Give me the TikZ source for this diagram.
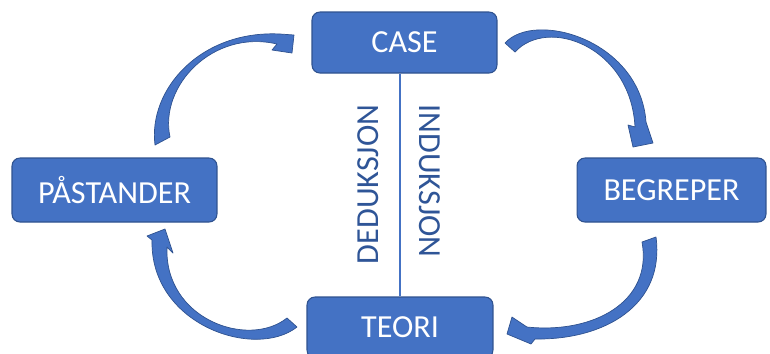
\documentclass[tikz,border=0pt]{standalone}
\usepackage{fontspec}
\setmainfont{Carlito}
\usetikzlibrary{positioning}
\definecolor{boxblue}{HTML}{4472C4}
\definecolor{boxedge}{HTML}{2F528F}
\definecolor{textblue}{HTML}{2F5597}
\tikzset{fase/.style={rectangle, draw=boxedge, fill=boxblue, line width=0.6pt, rounded corners=4.5pt,
  text=white, minimum height=1.22cm, inner sep=0pt, font=\fontsize{18.3}{21}\selectfont}}
\tikzset{metode/.style={text=textblue, inner sep=0pt, font=\fontsize{18.3}{21}\selectfont}}
\tikzset{pil/.style={fill=boxblue, draw=boxedge, line width=0.4pt, line join=round}}

\begin{document}
\begin{tikzpicture}[x=0.02cm, y=-0.02cm]
\useasboundingbox (0,0) rectangle (770,353);
\node[fase, minimum width=3.7cm] (case) at (404.5,42.5) {CASE};
\node[fase, minimum width=4.1cm, minimum height=1.28cm] (pastander) at (114.5,190) {PÅSTANDER};
\node[fase, minimum width=3.78cm, minimum height=1.28cm] (begreper) at (671.5,190) {BEGREPER};
\node[fase, minimum width=3.72cm] (teori) at (400,327.5) {TEORI};
\draw[boxblue, line width=0.85pt] (teori.north) -- (teori.north |- case.south);
\node[metode, rotate=90] (deduksjon) at (368,184.5) {DEDUKSJON};
\node[metode, rotate=-90] (induksjon) at (430,181) {INDUKSJON};
% curved arrows between the phases
\filldraw[pil] (155,145) .. controls (148,90) and (200,30) .. (280,34) -- (294,35) -- (292,53)
  -- (272,50) -- (277,44) .. controls (213,29) and (159,86) .. (170,137) -- cycle;
\filldraw[pil] (505,43) .. controls (535,10) and (640,40) .. (646,122) -- (653,143) -- (633,147)
  -- (628,125) -- (635,127) .. controls (631,47) and (548,16) .. (515,52) -- cycle;
\filldraw[pil] (656,237) .. controls (665,305) and (605,340) .. (535,339) -- (531,344) -- (507,334)
  -- (512,317) -- (527,327) .. controls (593,334) and (653,302) .. (642,242) -- cycle;
\filldraw[pil] (297,327) .. controls (255,360) and (150,325) .. (152,240) -- (147,236) -- (165,229)
  -- (173,253) -- (167,247) .. controls (164,319) and (248,349) .. (287,318) -- cycle;
\end{tikzpicture}
\end{document}
